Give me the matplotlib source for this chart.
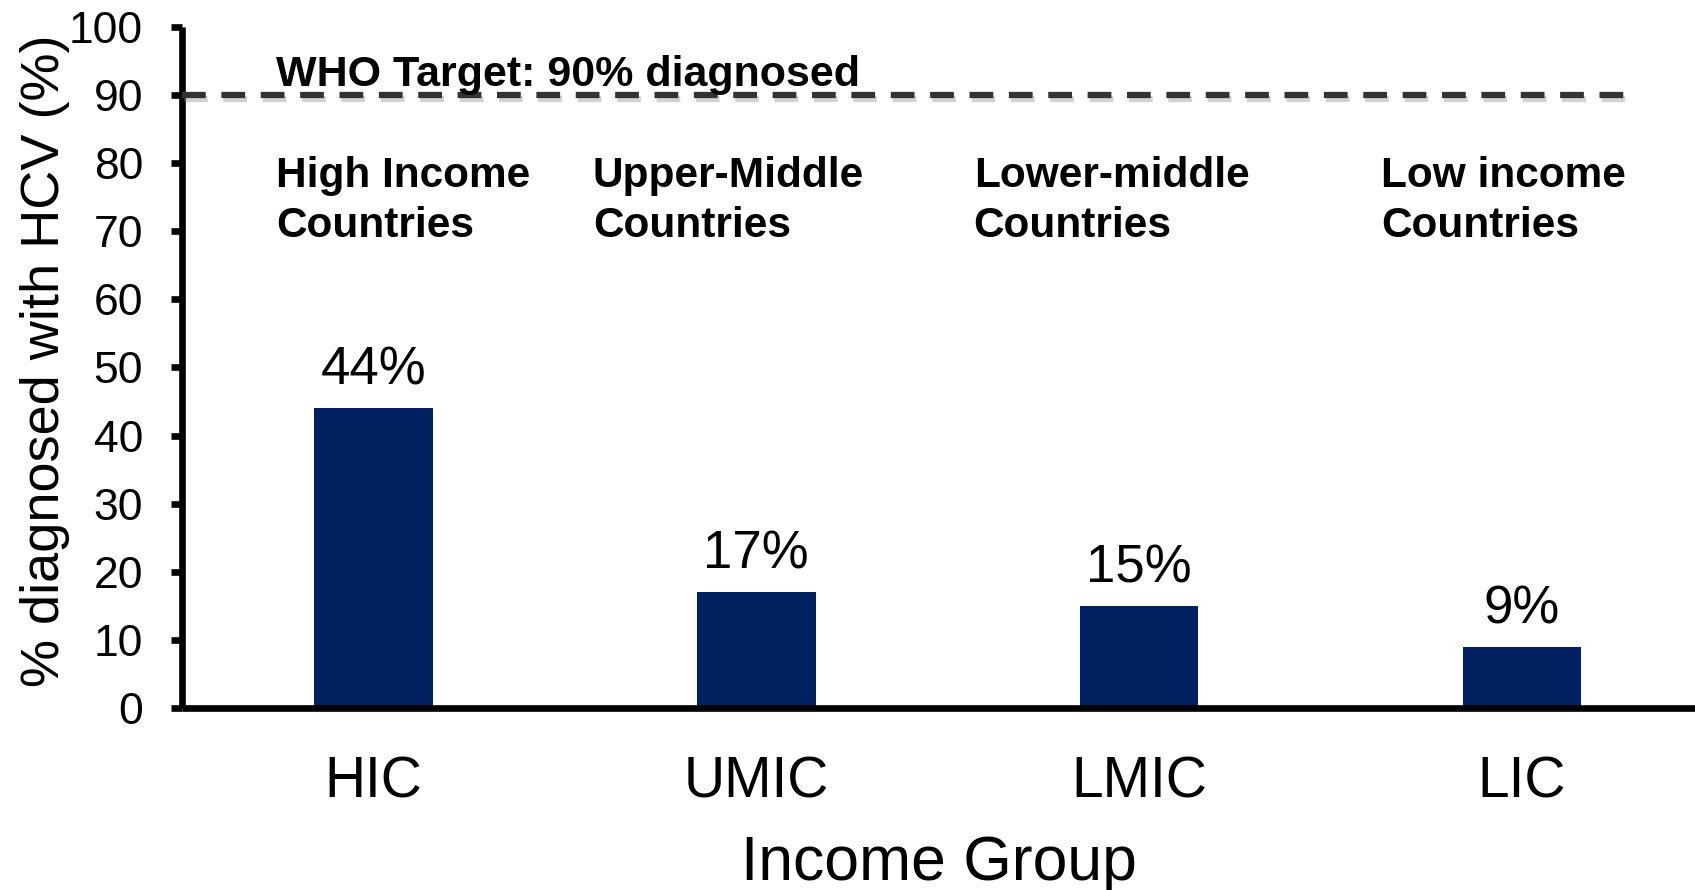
import matplotlib
matplotlib.use("Agg")
import matplotlib.pyplot as plt
import matplotlib.patheffects as pe

plt.rcParams['font.family'] = ['Liberation Sans', 'DejaVu Sans']

groups = ["HIC", "UMIC", "LMIC", "LIC"]
diagnosed = [44, 17, 15, 9]
group_names = ["High Income\nCountries", "Upper-Middle\nCountries",
               "Lower-middle\nCountries", "Low income\nCountries"]
who_target = 90

bar_color = "#002060"
name_offsets = [-0.254, -0.427, -0.432, -0.367]

fig = plt.figure(figsize=(16.95, 8.9), dpi=100)
ax = fig.add_axes([0.1074, 0.2045, 0.8926, 0.7652])

x = range(len(groups))
bars = ax.bar(x, diagnosed, width=0.31, color=bar_color, zorder=2)

for xi, v in zip(x, diagnosed):
    ax.annotate("%d%%" % v, (xi, v), xytext=(0, 17), textcoords="offset points",
                ha="center", va="baseline", fontsize=38)

# WHO target line
ax.plot([-0.5, 3.30], [who_target, who_target], color="#333333", lw=4.5,
        dashes=(3.8, 2.5), solid_capstyle="butt", dash_capstyle="butt",
        zorder=3,
        path_effects=[pe.SimpleLineShadow(offset=(1.5, -2.5), shadow_color="gray", alpha=0.35),
                      pe.Normal()])
ax.text(-0.254, 91.3, "WHO Target: %d%% diagnosed" % who_target,
        fontsize=31, fontweight="bold", ha="left", va="baseline")

for xi, name, off in zip(x, group_names, name_offsets):
    ax.text(xi + off, 81.0, name, fontsize=30.5, fontweight="bold",
            ha="left", va="top", linespacing=1.32)

ax.set_xlim(-0.5, 3.452)
ax.set_ylim(0, 100)
ax.set_yticks(range(0, 101, 10))
ax.set_xticks(list(x))
ax.set_xticklabels(groups)

for side in ["top", "right"]:
    ax.spines[side].set_visible(False)
for side in ["left", "bottom"]:
    ax.spines[side].set_linewidth(4.8)
    ax.spines[side].set_capstyle("butt")

ax.tick_params(axis="y", direction="out", length=8, width=4.8, pad=20, labelsize=32)
ax.tick_params(axis="x", length=0, pad=34, labelsize=41)

ax.set_ylabel("% diagnosed with HCV (%)", fontsize=39)
ax.yaxis.set_label_coords(-0.074, 0.51)
ax.set_xlabel("Income Group", fontsize=45, labelpad=18)

fig.savefig("out.png", dpi=100)
